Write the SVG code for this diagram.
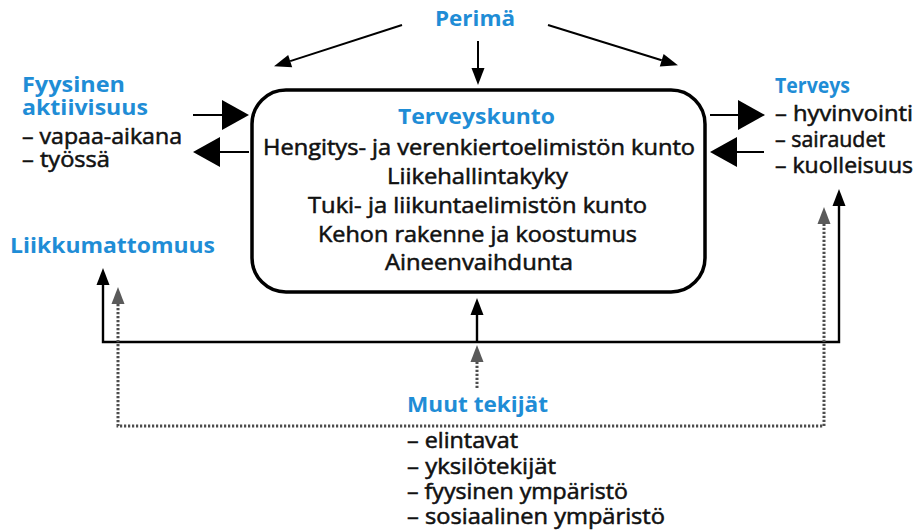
<svg xmlns="http://www.w3.org/2000/svg" width="920" height="532" viewBox="0 0 920 532">
  <style>
    text { font-family: "Open Sans", "Noto Sans", "Liberation Sans", sans-serif; font-size: 22px; font-weight: 400; fill: #111111; stroke: #111111; stroke-width: 0.55; }
    .head { font-size: 21px; font-weight: 700; fill: #1f8dd6; stroke: none; }
    .mid { text-anchor: middle; }
    .box { fill: #ffffff; stroke: #000000; stroke-width: 3.5; }
    .line { fill: none; stroke: #000000; stroke-width: 2; }
    .solid { fill: none; stroke: #000000; stroke-width: 2.4; }
    .dotted { fill: none; stroke: #4d4d4d; stroke-width: 3; stroke-dasharray: 2.2 1.8; }
  </style>
  <defs>
    <marker id="bigHead" markerUnits="userSpaceOnUse" markerWidth="30" markerHeight="32" viewBox="0 -16 28 32" refX="0" refY="0" orient="auto-start-reverse" overflow="visible">
      <path d="M0,-15 L27,0 L0,15 Z" fill="#000000"/>
    </marker>
    <marker id="smallHead" markerUnits="userSpaceOnUse" markerWidth="18" markerHeight="14" viewBox="0 -7 18 14" refX="0" refY="0" orient="auto-start-reverse" overflow="visible">
      <path d="M0,-6.5 L17,0 L0,6.5 Z" fill="#000000"/>
    </marker>
    <marker id="grayHead" markerUnits="userSpaceOnUse" markerWidth="18" markerHeight="14" viewBox="0 -7 18 14" refX="0" refY="0" orient="auto-start-reverse" overflow="visible">
      <path d="M0,-6.5 L17,0 L0,6.5 Z" fill="#5a5a5a"/>
    </marker>
  </defs>

  <!-- connectors -->
  <g id="connectors">
    <!-- from Perimä -->
    <path class="line" d="M402,25 L290.2,61.1" marker-end="url(#smallHead)"/>
    <path class="line" d="M478,41 L478,68" marker-end="url(#smallHead)"/>
    <path class="line" d="M548,25 L661.7,60.3" marker-end="url(#smallHead)"/>
    <!-- Fyysinen aktiivisuus <-> Terveyskunto -->
    <path class="line" d="M193,115 L222,115" marker-end="url(#bigHead)"/>
    <path class="line" d="M249,152 L220,152" marker-end="url(#bigHead)"/>
    <!-- Terveyskunto <-> Terveys -->
    <path class="line" d="M710,115 L738,115" marker-end="url(#bigHead)"/>
    <path class="line" d="M764,152 L737,152" marker-end="url(#bigHead)"/>
    <!-- solid feedback line -->
    <path class="solid" d="M103,285 V342 H839 V206" marker-start="url(#smallHead)" marker-end="url(#smallHead)"/>
    <path class="solid" d="M477,342 V315" marker-end="url(#smallHead)"/>
    <!-- dotted influence of Muut tekijät -->
    <path class="dotted" d="M477,388 V362" marker-end="url(#grayHead)"/>
    <path class="dotted" d="M118,304 V426 H824 V224" marker-start="url(#grayHead)" marker-end="url(#grayHead)"/>
  </g>

  <g id="perima">
    <text class="head mid" x="475" y="26" textLength="80" lengthAdjust="spacingAndGlyphs">Perimä</text>
  </g>

  <g id="terveyskunto">
    <rect class="box" x="252" y="90" width="453" height="202" rx="34" ry="34"/>
    <text class="head mid" x="476.5" y="124" textLength="157" lengthAdjust="spacingAndGlyphs">Terveyskunto</text>
    <text class="mid" x="479" y="155" textLength="432" lengthAdjust="spacingAndGlyphs">Hengitys- ja verenkiertoelimistön kunto</text>
    <text class="mid" x="477.5" y="184" textLength="181" lengthAdjust="spacingAndGlyphs">Liikehallintakyky</text>
    <text class="mid" x="477.5" y="213" textLength="339" lengthAdjust="spacingAndGlyphs">Tuki- ja liikuntaelimistön kunto</text>
    <text class="mid" x="477.5" y="242" textLength="319" lengthAdjust="spacingAndGlyphs">Kehon rakenne ja koostumus</text>
    <text class="mid" x="479" y="270" textLength="188" lengthAdjust="spacingAndGlyphs">Aineenvaihdunta</text>
  </g>

  <g id="fyysinen-aktiivisuus">
    <text class="head" x="22" y="92" textLength="103" lengthAdjust="spacingAndGlyphs">Fyysinen</text>
    <text class="head" x="22" y="115" textLength="126" lengthAdjust="spacingAndGlyphs">aktiivisuus</text>
    <text x="22" y="144" textLength="160" lengthAdjust="spacingAndGlyphs">– vapaa-aikana</text>
    <text x="22" y="167" textLength="88" lengthAdjust="spacingAndGlyphs">– työssä</text>
  </g>

  <g id="liikkumattomuus">
    <text class="head" x="10" y="253" textLength="205" lengthAdjust="spacingAndGlyphs">Liikkumattomuus</text>
  </g>

  <g id="terveys">
    <text class="head" x="775" y="93" textLength="75" lengthAdjust="spacingAndGlyphs">Terveys</text>
    <text x="775" y="121" textLength="138" lengthAdjust="spacingAndGlyphs">– hyvinvointi</text>
    <text x="775" y="147" textLength="110" lengthAdjust="spacingAndGlyphs">– sairaudet</text>
    <text x="775" y="173" textLength="138" lengthAdjust="spacingAndGlyphs">– kuolleisuus</text>
  </g>

  <g id="muut-tekijat">
    <text class="head" x="407" y="412" textLength="141" lengthAdjust="spacingAndGlyphs">Muut tekijät</text>
    <text x="407" y="448" textLength="111" lengthAdjust="spacingAndGlyphs">– elintavat</text>
    <text x="407" y="474" textLength="149" lengthAdjust="spacingAndGlyphs">– yksilötekijät</text>
    <text x="407" y="499" textLength="221" lengthAdjust="spacingAndGlyphs">– fyysinen ympäristö</text>
    <text x="407" y="524" textLength="258" lengthAdjust="spacingAndGlyphs">– sosiaalinen ympäristö</text>
  </g>
</svg>
